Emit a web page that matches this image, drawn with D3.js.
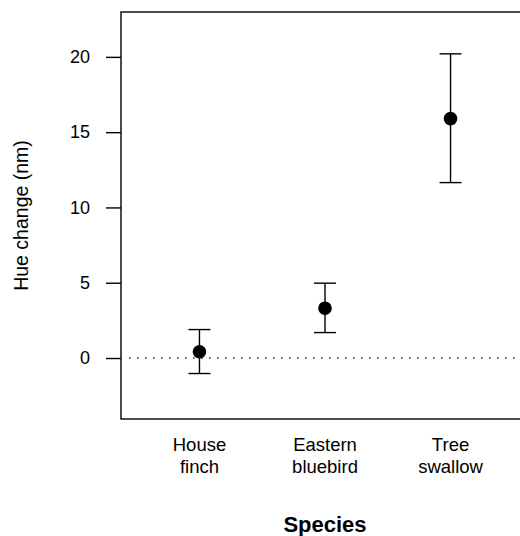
<!DOCTYPE html>
<html>
<head>
<meta charset="utf-8">
<script src="https://cdn.jsdelivr.net/npm/d3@7"></script>
<style>
body { margin: 0; background: #fff; }
text { font-family: "Liberation Sans", Arial, Helvetica, sans-serif; fill: #000; }
</style>
</head>
<body>
<div id="chart"></div>
<script>
// values
var species = [["House", "finch"], ["Eastern", "bluebird"], ["Tree", "swallow"]];
var means = [0.42, 3.31, 15.9];
var lower = [-1.03, 1.69, 11.65];
var upper = [1.89, 4.97, 20.2];
var yTicks = [0, 5, 10, 15, 20];

var W = 520, H = 536;
var margin = { left: 121, right: -9, top: 12, bottom: 117 },
    width = W - margin.left - margin.right,
    height = H - margin.top - margin.bottom;

var svg = d3.select("#chart").append("svg").attr("width", W).attr("height", H);
var g = svg.append("g").attr("transform", "translate(" + margin.left + "," + margin.top + ")");

var x = d3.scaleLinear().domain([0.375, 3.625]).range([0, width]);
var y = d3.scaleLinear().domain([-4.05, 22.98]).range([height, 0]);

// zero reference line
g.append("line")
	.attr("x1", x(0.44)).attr("x2", width)
	.attr("y1", y(0)).attr("y2", y(0))
	.attr("stroke", "#000").attr("stroke-width", 1.3)
	.attr("stroke-dasharray", "1.3 6.7");

// box
g.append("rect")
	.attr("width", width).attr("height", height)
	.attr("fill", "none").attr("stroke", "#000").attr("stroke-width", 1.4);

// y axis
var yAxis = d3.axisLeft(y).tickValues(yTicks).tickSize(15).tickPadding(16);
var ya = g.append("g").call(yAxis);
ya.select(".domain").remove();
ya.selectAll(".tick line").attr("stroke-width", 1.4);
ya.selectAll(".tick text").attr("font-size", 18).style("font-family", "Liberation Sans, Arial, sans-serif");

// error bars + means
var data = species.map(function (s, i) {
	return { i: i + 1, name: s, m: means[i], lo: lower[i], hi: upper[i] };
});

var bars = g.selectAll(".bar").data(data).enter().append("g").attr("class", "bar");
bars.append("line")
	.attr("x1", function (d) { return x(d.i); }).attr("x2", function (d) { return x(d.i); })
	.attr("y1", function (d) { return y(d.lo); }).attr("y2", function (d) { return y(d.hi); })
	.attr("stroke", "#000").attr("stroke-width", 1.4);
bars.selectAll(".cap").data(function (d) { return [[d.i, d.lo], [d.i, d.hi]]; }).enter().append("line")
	.attr("x1", function (d) { return x(d[0]) - 11; }).attr("x2", function (d) { return x(d[0]) + 11; })
	.attr("y1", function (d) { return y(d[1]); }).attr("y2", function (d) { return y(d[1]); })
	.attr("stroke", "#000").attr("stroke-width", 1.4);
bars.append("circle")
	.attr("cx", function (d) { return x(d.i); })
	.attr("cy", function (d) { return y(d.m); })
	.attr("r", 6.8).attr("fill", "#000");

// category labels
var cat = g.selectAll(".cat").data(data).enter().append("text")
	.attr("class", "cat")
	.attr("text-anchor", "middle")
	.attr("font-size", 18.5)
	.attr("transform", function (d) { return "translate(" + x(d.i) + "," + (height + 32) + ")"; });
cat.append("tspan").attr("x", 0).attr("y", 0).text(function (d) { return d.name[0]; });
cat.append("tspan").attr("x", 0).attr("y", 22).text(function (d) { return d.name[1]; });

// axis titles
g.append("text")
	.attr("x", width / 2).attr("y", height + 113)
	.attr("text-anchor", "middle")
	.attr("font-size", 22).attr("font-weight", "bold")
	.text("Species");

g.append("text")
	.attr("transform", "translate(" + (-93) + "," + (height / 2) + ") rotate(-90)")
	.attr("text-anchor", "middle")
	.attr("font-size", 19.5)
	.text("Hue change (nm)");
</script>
</body>
</html>
